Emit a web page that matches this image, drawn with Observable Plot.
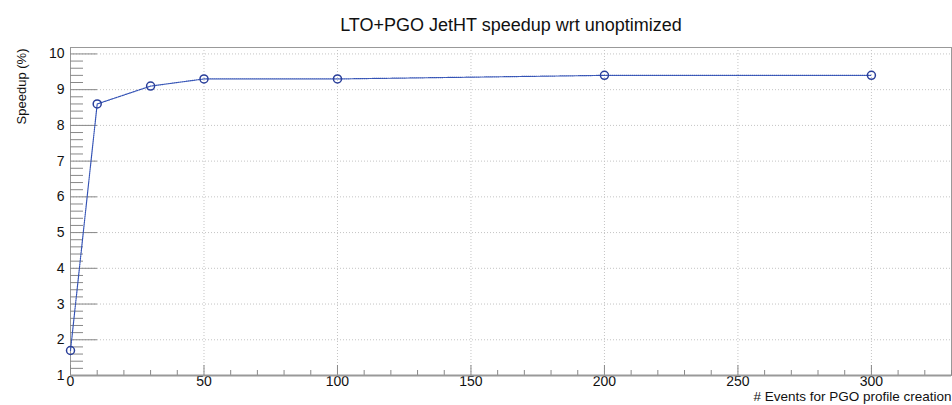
<!DOCTYPE html>
<html>
<head>
<meta charset="utf-8">
<script src="https://cdn.jsdelivr.net/npm/d3@7"></script>
<script src="https://cdn.jsdelivr.net/npm/@observablehq/plot@0.6"></script>
<style>
  html, body { margin: 0; padding: 0; background: #fff; }
  #chart svg { font-family: "Liberation Sans", Arial, sans-serif; display: block; }
</style>
</head>
<body>
<div id="chart"></div>
<script>
// ---- data ----
const titleText = "LTO+PGO JetHT speedup wrt unoptimized";
const xLabel = "# Events for PGO profile creation";
const yLabel = "Speedup (%)";
const events = [0, 10, 30, 50, 100, 200, 300];
const speedup = [1.7, 8.6, 9.1, 9.3, 9.3, 9.4, 9.4];
const xMajorTicks = [0, 50, 100, 150, 200, 250, 300];
const xMinorTicks = d3.range(0, 331, 10).filter(v => v % 50 !== 0);
const yMajorTicks = [1, 2, 3, 4, 5, 6, 7, 8, 9, 10];
const yMinorTicks = d3.range(1, 10.19, 0.2).map(v => +v.toFixed(1)).filter(v => Math.abs(v - Math.round(v)) > 1e-6);
const xDomain = [0, 330];
const yDomain = [1, 10.18];

const data = events.map((e, i) => ({events: e, speedup: speedup[i]}));

const axisColor = "#888";
const gridColor = "#c4c4c4";
const lineColor = "#3352b5";

const chart = Plot.plot({
  width: 952,
  height: 405,
  marginLeft: 70,
  marginRight: 1,
  marginTop: 47,
  marginBottom: 30,
  style: {fontFamily: "Liberation Sans, Arial, sans-serif", background: "#fff"},
  x: {domain: xDomain, axis: null},
  y: {domain: yDomain, axis: null},
  marks: [
    Plot.gridY(yMajorTicks, {stroke: gridColor, strokeOpacity: 1, strokeDasharray: "1,2"}),
    Plot.gridX(xMajorTicks, {stroke: gridColor, strokeOpacity: 1, strokeDasharray: "1,2"}),
    Plot.frame({stroke: "#999"}),
    Plot.axisY(yMinorTicks, {label: null, tickSize: -13, tickFormat: () => "", stroke: axisColor}),
    Plot.axisY(yMajorTicks, {label: null, tickSize: -27, tickPadding: 33, stroke: axisColor, fill: "#111", fontSize: 14}),
    Plot.axisX(xMinorTicks, {label: null, tickSize: -5, tickFormat: () => "", stroke: axisColor}),
    Plot.axisX(xMajorTicks, {label: null, tickSize: -10, tickPadding: 11, stroke: axisColor, fill: "#111", fontSize: 14}),
    Plot.ruleY([yDomain[0]], {stroke: "#999", strokeWidth: 2}),
    Plot.line(data, {x: "events", y: "speedup", stroke: lineColor, strokeWidth: 1.2, strokeDasharray: "1,1"}),
    Plot.dot(data, {x: "events", y: "speedup", r: 4, stroke: "#2a3f9a", strokeWidth: 1.5, fill: "none"}),
    Plot.text([titleText], {frameAnchor: "top", dy: -29, fontSize: 18, fill: "#111"}),
    Plot.text([yLabel], {frameAnchor: "top-left", rotate: -90, textAnchor: "end", dx: -54, dy: 1, fontSize: 13, fill: "#111"}),
    Plot.text([xLabel], {frameAnchor: "bottom-right", textAnchor: "end", dy: 25, dx: 0, fontSize: 13.5, fill: "#111"})
  ]
});
document.getElementById("chart").appendChild(chart);
</script>
</body>
</html>
